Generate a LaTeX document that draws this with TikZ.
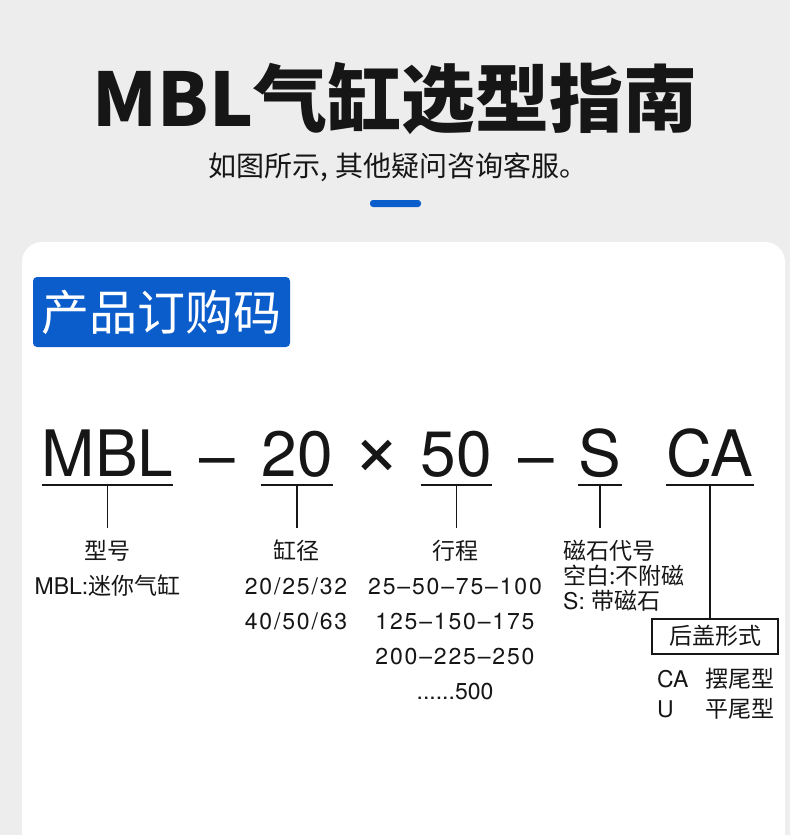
\documentclass[tikz,border=0pt]{standalone}
\usepackage{fontspec}
\setmainfont{TeX Gyre Heros}
\newfontfamily\cn{Noto Sans CJK SC}
\newfontfamily\numf[LetterSpace=8]{TeX Gyre Heros}
\usetikzlibrary{positioning,calc}
\definecolor{mblblue}{HTML}{0A5DCB}
\definecolor{pagegray}{HTML}{EDEDED}
\definecolor{ink}{HTML}{161616}
\tikzset{
  code/.style={anchor=base, inner sep=0pt, font=\fontsize{64}{64}\selectfont, text=ink},
  uline/.style={line width=2.6pt, draw=ink},
  lead/.style={line width=1.4pt, draw=ink},
  lbl/.style={anchor=north, align=center, inner xsep=0pt, inner ysep=12pt, font=\fontsize{23}{35}\selectfont, text=ink},
  capbox/.style={draw=ink, line width=2pt, minimum width=126pt, minimum height=35pt, font=\cn\fontsize{23}{23}\selectfont, text=ink},
}
\begin{document}
\begin{tikzpicture}[x=1pt,y=-1pt]
  \useasboundingbox (0,0) rectangle (790,835);
  \fill[pagegray] (0,0) rectangle (790,835);
  \fill[white] (22,835) [rounded corners=20pt]-- (22,242) -- (785,242) [sharp corners]-- (785,835) -- cycle;
  % heading
  \node[font=\cn\bfseries\fontsize{74}{74}\selectfont, text=ink] (title) at (395,98) {MBL气缸选型指南};
  \node[font=\cn\fontsize{28}{28}\selectfont, text=ink] (sub) at (398,167) {如图所示, 其他疑问咨询客服。};
  \fill[mblblue, rounded corners=3pt] (370,200) rectangle (421,207);
  \node[fill=mblblue, rounded corners=4pt, minimum width=257pt, minimum height=70pt,
        font=\cn\fontsize{48}{48}\selectfont, text=white] (tag) at (161.5,312) {产品订购码};
  % order code
  \node[code] (mbl) at (107.5,476) {MBL};
  \node[code] (d1) at (217.5,478) {–};
  \node[code] (bore) at (297,476) {20};
  \node[code, anchor=center, font=\fontsize{84}{84}\selectfont] (times) at (377,458) {×};
  \node[code] (strk) at (456.5,476) {50};
  \node[code] (d2) at (536.5,478) {–};
  \node[code] (mag) at (600,476) {S};
  \node[code] (cap) at (710,476) {CA};
  \foreach \n in {mbl,bore,strk,mag,cap} {
    \draw[uline] ([yshift=-9pt]\n.base west) -- ([yshift=-9pt]\n.base east);
    \coordinate (\n-u) at ([yshift=-9pt]\n.base);
  }
  % labels
  \node[lbl] (xh) at (107.5,528) {{\cn 型号}\\MBL:{\cn 迷你气缸}};
  \node[lbl] (gj) at (296,528) {{\cn 缸径}\\{\numf 20/25/32}\\{\numf 40/50/63}};
  \node[lbl] (xc) at (455,528) {{\cn 行程}\\{\numf 25–50–75–100}\\{\numf 125–150–175}\\{\numf 200–225–250}\\......500};
  \node[lbl, anchor=north west, align=left, font=\fontsize{23}{25}\selectfont] (cx) at (563,528)
    {{\cn 磁石代号}\\{\cn 空白:不附磁}\\S: {\cn 带磁石}};
  \node[capbox] (hg) at (715,636) {后盖形式};
  \node[anchor=north west, align=left, inner sep=0pt, font=\fontsize{23}{30}\selectfont, text=ink] (ty) at (657,668)
    {\makebox[48pt][l]{CA}{\cn 摆尾型}\\\makebox[48pt][l]{U}{\cn 平尾型}};
  \draw[lead] (mbl-u) -- (mbl-u |- xh.north);
  \draw[lead] (bore-u) -- (bore-u |- gj.north);
  \draw[lead] (strk-u) -- (strk-u |- xc.north);
  \draw[lead] (mag-u) -- (mag-u |- cx.north);
  \draw[lead] (cap-u) -- (cap-u |- hg.north);
\end{tikzpicture}
\end{document}
